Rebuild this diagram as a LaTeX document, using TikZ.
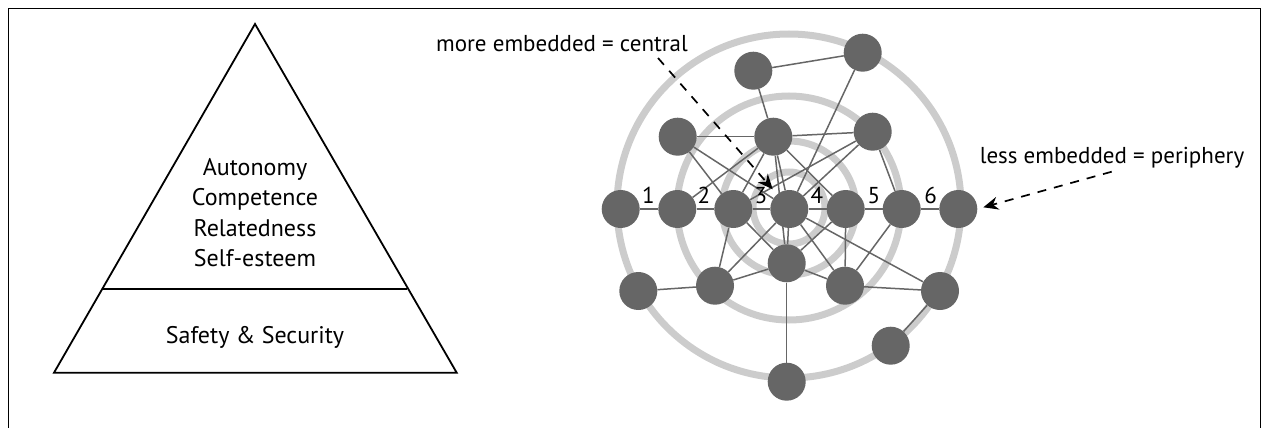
\documentclass[tikz,border=0pt]{standalone}
\usepackage{fontspec}
\setmainfont{PT Sans}
\usetikzlibrary{arrows.meta}
\pgfdeclarelayer{rings}
\pgfdeclarelayer{edges}
\pgfsetlayers{rings,edges,main}
\definecolor{nodegray}{HTML}{666666}
\definecolor{edgegray}{HTML}{666666}
\definecolor{ringgray}{HTML}{CCCCCC}
\tikzset{
  actor/.style={circle, fill=nodegray, minimum size=38pt, inner sep=0pt},
  tie/.style={draw=edgegray, line width=1.5pt},
  ring/.style={draw=ringgray, line width=7pt},
  frameline/.style={draw=black, line width=1.6pt},
  tier/.style={draw=black, line width=1.8pt, line join=miter},
  label/.style={font=\fontsize{23}{28}\selectfont, anchor=base, inner sep=0pt},
  tiertext/.style={font=\fontsize{24}{28}\selectfont, anchor=base, inner sep=0pt},
  digit/.style={font=\fontsize{23}{28}\selectfont, anchor=base, inner sep=0pt},
  pointer/.style={draw=black, line width=1.7pt, dash pattern=on 9pt off 8pt,
    -{Stealth[length=15pt, width=13pt, inset=5pt]}}
}
\begin{document}
\begin{tikzpicture}[x=1pt, y=-1pt]
\useasboundingbox (0,0) rectangle (1268,428);

% open frame (no bottom edge)
\draw[frameline] (8.5,428) -- (8.5,8.5) -- (1260.5,8.5) -- (1260.5,428);

% pyramid of needs
\coordinate (apex) at (255,24);
\coordinate (baseL) at (54,372.7);
\coordinate (baseR) at (456.7,372.7);
\coordinate (divL) at (102.7,289);
\coordinate (divR) at (407.3,289);
\draw[tier] (apex) -- (baseR) -- (baseL) -- cycle;
\draw[tier] (divL) -- (divR);
\node[tiertext] (t1) at (255,175) {Autonomy};
\node[tiertext] (t2) at (255,205.5) {Competence};
\node[tiertext] (t3) at (255,236) {Relatedness};
\node[tiertext] (t4) at (255,266.5) {Self-esteem};
\node[tiertext] (t5) at (255,343) {Safety \& Security};

% network actors
\node[actor] (A) at (862.7,52.7) {};
\node[actor] (B) at (753.3,70.7) {};
\node[actor] (C) at (677.7,136.7) {};
\node[actor] (D) at (773.3,136.7) {};
\node[actor] (E) at (872.7,131.7) {};
\node[actor] (r1) at (620.7,209) {};
\node[actor] (r2) at (677.3,209) {};
\node[actor] (r3) at (733.3,209) {};
\node[actor] (r4) at (789.3,209) {};
\node[actor] (r5) at (845.7,209) {};
\node[actor] (r6) at (901.7,209) {};
\node[actor] (r7) at (958.3,209) {};
\node[actor] (F) at (786.7,263.3) {};
\node[actor] (G) at (638.3,291) {};
\node[actor] (H) at (715,285.7) {};
\node[actor] (I) at (845,285.7) {};
\node[actor] (J) at (940,291) {};
\node[actor] (K) at (890.7,345.7) {};
\node[actor] (L) at (786.7,381.7) {};

% embeddedness rings
\begin{pgfonlayer}{rings}
  \coordinate (core) at (789,208);
  \coordinate (outercore) at (789,206);
  \draw[ring] (core) circle[radius=36];
  \draw[ring] (core) circle[radius=67];
  \draw[ring] (core) circle[radius=112];
  \draw[ring] (outercore) circle[radius=172];
\end{pgfonlayer}

% ties
\begin{pgfonlayer}{edges}
  \draw[tie] (r1) -- (r2) -- (r3) -- (r4) -- (r5) -- (r6) -- (r7);
  \foreach \u/\v in {A/B, A/r4, B/D, C/D, D/E, C/r3, C/r4, r2/D, D/r3, D/r4,
      D/F, D/r5, E/r4, E/r3, E/r6, G/H, H/r3, H/r4, H/F, r3/F, r4/F, F/L,
      r4/I, r4/J, F/r5, F/I, r5/I, I/J, I/r6, J/K}
    \draw[tie] (\u) -- (\v);
\end{pgfonlayer}

% ring numbers
\node[digit] (d1) at (648.3,203) {1};
\node[digit] (d2) at (704,203) {2};
\node[digit] (d3) at (761,203) {3};
\node[digit] (d4) at (817,203) {4};
\node[digit] (d5) at (874,203) {5};
\node[digit] (d6) at (930.7,203) {6};

% annotations
\node[label] (core lbl) at (562,52) {more embedded = central};
\node[label] (edge lbl) at (1112,163) {less embedded = periphery};
\coordinate (p1s) at (658,58);
\coordinate (p1e) at (772.7,189.3);
\coordinate (p2s) at (1111.7,171.7);
\coordinate (p2e) at (983.3,207.3);
\draw[pointer] (p1s) -- (p1e);
\draw[pointer] (p2s) -- (p2e);
\end{tikzpicture}
\end{document}
